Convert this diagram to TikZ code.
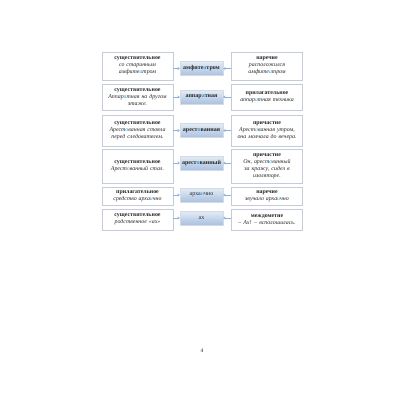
\documentclass[tikz,border=0pt]{standalone}
\usepackage{fontspec}
\setmainfont{Liberation Serif}
\usetikzlibrary{arrows.meta,shadows}
\definecolor{boxline}{HTML}{C3CCD8}
\definecolor{arrowblue}{HTML}{8DB3E2}
\definecolor{hlblue}{HTML}{2E9AD8}
\definecolor{ctop}{HTML}{A9C1E0}
\definecolor{cbot}{HTML}{E4ECF6}
\definecolor{txt}{HTML}{262626}
\newcommand\hlt[1]{\textcolor{hlblue}{#1}}
\tikzset{
  sidebox/.style={draw=boxline, line width=0.4pt, fill=white, minimum width=71pt, text width=70pt, align=center, inner sep=0.5pt,
    font=\fontsize{5.9}{7}\selectfont, text=txt, drop shadow={shadow xshift=0.7pt, shadow yshift=-0.7pt, fill=black!10}},
  wordbox/.style={draw=boxline!70, line width=0.3pt, top color=cbot, bottom color=ctop, shading angle=0,
    minimum width=43pt, minimum height=14pt, inner sep=0.5pt, align=center, font=\fontsize{6}{7}\selectfont, text=txt},
  conn/.style={draw=arrowblue, line width=0.9pt, -{Stealth[length=2.4pt,width=3pt]}}
}
\begin{document}
\begin{tikzpicture}[x=1pt,y=-1pt]
\useasboundingbox[fill=white] (0,0) rectangle (400,400);
% row 1
\node[sidebox, minimum height=28pt] (l1) at (137.5,66) {\textbf{существительное}\\\textit{со старинным}\\\textit{амфите\hlt{а}тром}};
\node[wordbox] (c1) at (201.5,68.5) {\textbf{амфите\hlt{а}тром}};
\node[sidebox, minimum height=28pt] (r1) at (267,66) {\textbf{наречие}\\\textit{расположился}\\\textit{амфите\hlt{а}тром}};
% row 2
\node[sidebox, minimum height=26pt] (l2) at (137.5,97) {\textbf{существительное}\\\textit{Аппар\hlt{а}тная на другом}\\\textit{этаже.}};
\node[wordbox] (c2) at (201.5,97) {\textbf{аппар\hlt{а}тная}};
\node[sidebox, minimum height=26pt] (r2) at (267,97) {\textbf{прилагательное}\\\textit{аппар\hlt{а}тная техника}};
% row 3
\node[sidebox, minimum height=31pt] (l3) at (137.5,130.5) {\textbf{существительное}\\\textit{Арест\hlt{о}ванная стояла}\\\textit{перед следователем.}};
\node[wordbox] (c3) at (201.5,130.5) {\textbf{арест\hlt{о}ванная}};
\node[sidebox, minimum height=31pt] (r3) at (267,130.5) {\textbf{причастие}\\\textit{Арест\hlt{о}ванная утром,}\\\textit{она молчала до вечера.}};
% row 4
\node[sidebox, minimum height=34pt] (l4) at (137.5,166) {\textbf{существительное}\\\textit{Арест\hlt{о}ванный стал.}};
\node[wordbox] (c4) at (201.5,163) {\textbf{арест\hlt{о}ванный}};
\node[sidebox, minimum height=34pt] (r4) at (267,166) {\textbf{причастие}\\\textit{Он, арест\hlt{о}ванный}\\\textit{за кражу, сидел в}\\\textit{изоляторе.}};
% row 5
\node[sidebox, minimum height=18pt] (l5) at (137.5,196) {\textbf{прилагательное}\\\textit{средство арха\hlt{и}чно}};
\node[wordbox] (c5) at (201.5,195) {арха\hlt{и}чно};
\node[sidebox, minimum height=18pt] (r5) at (267,196) {\textbf{наречие}\\\textit{звучало арха\hlt{и}чно}};
% row 6
\node[sidebox, minimum height=21pt] (l6) at (137.5,219.5) {\textbf{существительное}\\\textit{родственное «ах»}};
\node[wordbox] (c6) at (201.5,218) {ах};
\node[sidebox, minimum height=21pt] (r6) at (267,219.5) {\textbf{междометие}\\\textit{– Ах! – всполошилась.}};
% connectors
\foreach \i in {1,...,6}{
  \draw[conn] (l\i.east |- c\i.west) -- (c\i.west);
  \draw[conn] (r\i.west |- c\i.east) -- (c\i.east);
}
% page number
\node[font=\fontsize{5.5}{6.5}\selectfont, text=txt] (pg) at (202,351) {4};
\end{tikzpicture}
\end{document}
